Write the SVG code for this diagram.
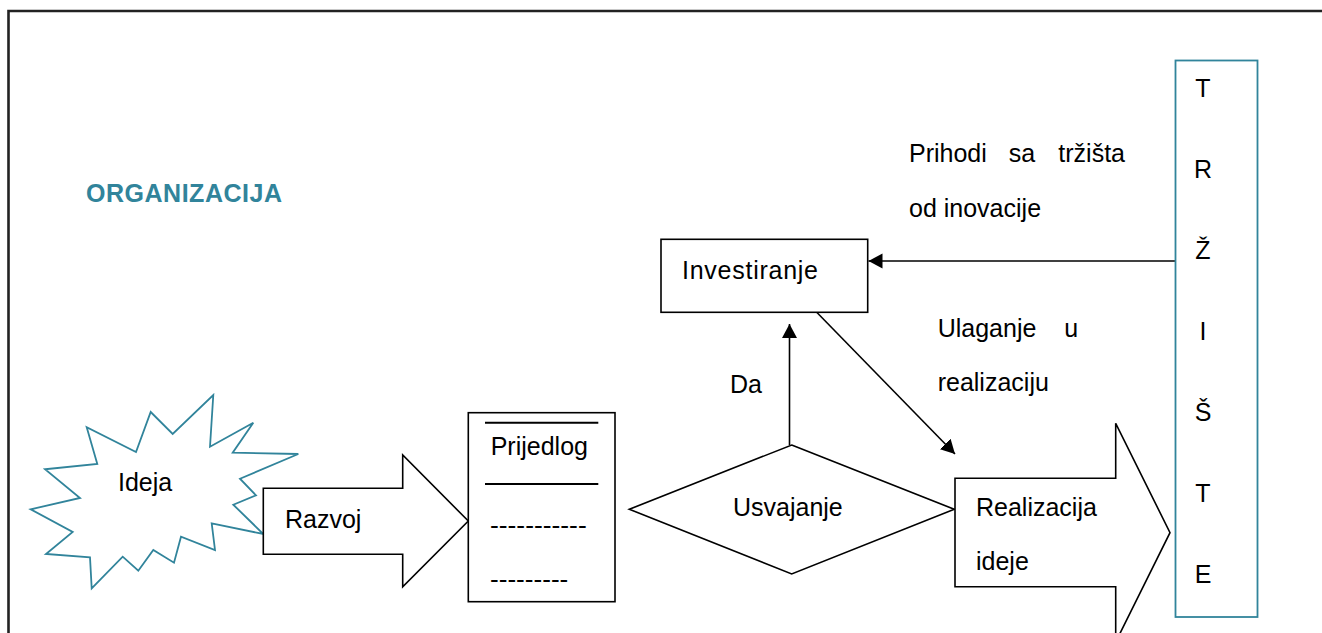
<svg xmlns="http://www.w3.org/2000/svg" width="1322" height="633" viewBox="0 0 1322 633">
<style>
text{font-family:"Liberation Sans",Arial,sans-serif;font-size:25px;fill:#000}
.teal{fill:#31849B}
.shape{fill:#fff;stroke:#000;stroke-width:1.6}
.tealshape{fill:#fff;stroke:#31849B;stroke-width:1.8}
.conn{fill:none;stroke:#000;stroke-width:1.6}
.rule{stroke:#000;stroke-width:2}
</style>
<defs>
<marker id="ah" markerUnits="userSpaceOnUse" markerWidth="16" markerHeight="16" refX="14" refY="7.5" orient="auto">
<path d="M0,0 L14,7.5 L0,15 z" fill="#000"/>
</marker>
</defs>
<rect width="1322" height="633" fill="#fff"/>
<g id="frame">
<path d="M8.5,633 V11 H1322" fill="none" stroke="#222" stroke-width="2.6"/>
</g>
<g id="title">
<text x="86" y="202" class="teal" font-weight="bold" textLength="196" lengthAdjust="spacing">ORGANIZACIJA</text>
</g>
<g id="connectors">
<line class="conn" x1="1175" y1="261" x2="868.5" y2="261" marker-end="url(#ah)"/>
<line class="conn" x1="789.5" y1="445" x2="789.5" y2="324" marker-end="url(#ah)"/>
<line class="conn" x1="816.7" y1="312.3" x2="955" y2="454" marker-end="url(#ah)"/>
</g>
<g id="ideja">
<polygon class="tealshape" points="213.3,395 210,446.7 253.3,422.7 232.7,452.7 298.3,454 240,478.7 256,495.3 233.3,504.7 263.3,534 211.7,523.3 215,550 181,536.7 174,562.7 153.3,550 138.3,570.7 122.7,556.7 91.7,588.3 90,557.3 46,554 72.7,532 30.7,509.3 80,498 45,469.3 97.3,464 86.7,427.3 136,452 150.7,412 172.7,434"/>
<text x="118" y="491">Ideja</text>
</g>
<g id="razvoj">
<polygon class="shape" points="263.3,488.3 402.7,488.3 402.7,455 468.3,521 402.7,586.7 402.7,554.3 263.3,554.3"/>
<text x="285" y="528">Razvoj</text>
</g>
<g id="prijedlog">
<rect class="shape" x="468.3" y="412.7" width="146.7" height="189"/>
<line class="rule" x1="485" y1="422.7" x2="598.3" y2="422.7"/>
<line class="rule" x1="485" y1="484" x2="598.3" y2="484"/>
<text x="490.7" y="455">Prijedlog</text>
<text x="490" y="534" textLength="96.7" lengthAdjust="spacingAndGlyphs">-----------</text>
<text x="490" y="588" textLength="78.3" lengthAdjust="spacingAndGlyphs">---------</text>
</g>
<g id="usvajanje">
<polygon class="shape" points="791.7,445 954.3,509.3 791.7,574 629.3,509.3"/>
<text x="733" y="516">Usvajanje</text>
</g>
<g id="da-label">
<text x="730" y="393">Da</text>
</g>
<g id="investiranje">
<rect class="shape" x="661" y="239.3" width="206.7" height="73"/>
<text x="682" y="279" textLength="136" lengthAdjust="spacing">Investiranje</text>
</g>
<g id="realizacija">
<polygon class="shape" points="955,478.3 1115.7,478.3 1115.7,423.3 1170,532.7 1115.7,642 1115.7,586.7 955,586.7"/>
<text x="976" y="516">Realizacija</text>
<text x="976" y="570">ideje</text>
</g>
<g id="prihodi-label">
<text x="909" y="162">Prihodi</text>
<text x="1022" y="162" text-anchor="middle">sa</text>
<text x="1125" y="162" text-anchor="end">tržišta</text>
<text x="909" y="217">od inovacije</text>
</g>
<g id="ulaganje-label">
<text x="937.7" y="337">Ulaganje</text>
<text x="1064.3" y="337">u</text>
<text x="937.7" y="391">realizaciju</text>
</g>
<g id="trziste">
<rect x="1175.5" y="60.5" width="82" height="556.5" fill="#fff" stroke="#31849B" stroke-width="1.8"/>
<text x="1203" y="97" text-anchor="middle">T</text>
<text x="1203" y="178" text-anchor="middle">R</text>
<text x="1203" y="259" text-anchor="middle">Ž</text>
<text x="1203" y="340" text-anchor="middle">I</text>
<text x="1203" y="421" text-anchor="middle">Š</text>
<text x="1203" y="502" text-anchor="middle">T</text>
<text x="1203" y="583" text-anchor="middle">E</text>
</g>
</svg>
